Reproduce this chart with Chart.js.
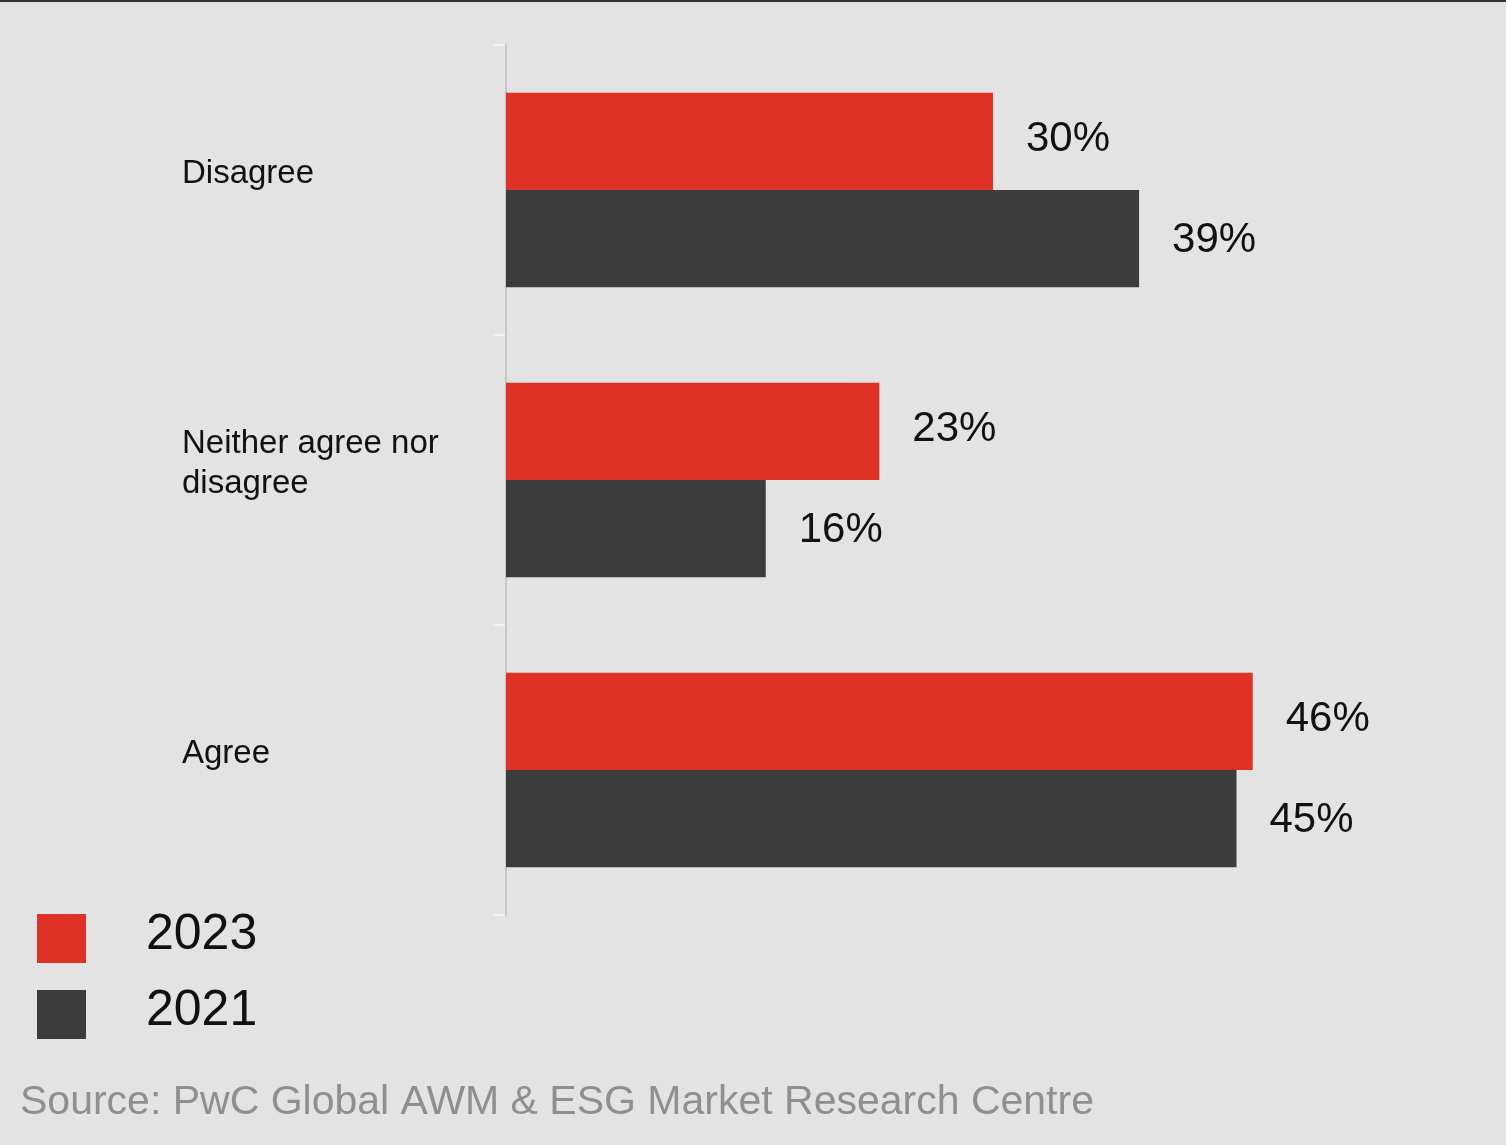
<!DOCTYPE html>
<html>
<head>
<meta charset="utf-8">
<script src="https://cdn.jsdelivr.net/npm/chart.js@4/dist/chart.umd.min.js"></script>
<style>
  html, body { margin: 0; padding: 0; background: #e3e3e3; }
  #wrap { width: 1506px; height: 1145px; }
</style>
</head>
<body>
<div id="wrap"><canvas id="chart" width="1506" height="1145"></canvas></div>
<script>
const categories = ['Disagree', ['Neither agree nor', 'disagree'], 'Agree'];
const seriesNames = ['2023', '2021'];
const values2023 = [30, 23, 46];
const values2021 = [39, 16, 45];
const seriesColors = ['#e03126', '#3c3c3c'];
const sourceNote = 'Source: PwC Global AWM & ESG Market Research Centre';

const FONT = '"Liberation Sans", Arial, sans-serif';

// background + thin dark rule along the top edge
const backdrop = {
    id: 'backdrop',
    beforeDraw(chart) {
        const ctx = chart.ctx;
        ctx.save();
        ctx.fillStyle = '#e3e3e3';
        ctx.fillRect(0, 0, chart.width, chart.height);
        ctx.fillStyle = '#333';
        ctx.fillRect(0, 0, chart.width, 2);
        ctx.restore();
    }
};

// percentage labels to the right of each bar
const valueLabels = {
    id: 'valueLabels',
    afterDatasetsDraw(chart) {
        const ctx = chart.ctx;
        ctx.save();
        ctx.font = '300 42px ' + FONT;
        ctx.fillStyle = '#111';
        ctx.textAlign = 'left';
        ctx.textBaseline = 'middle';
        chart.data.datasets.forEach((ds, di) => {
            chart.getDatasetMeta(di).data.forEach((bar, i) => {
                ctx.fillText(ds.data[i] + '%', bar.x + 33, bar.y + (di === 0 ? -2 : 2));
            });
        });
        ctx.restore();
    }
};

// legend squares and the source line under the plot
const footer = {
    id: 'footer',
    afterDraw(chart) {
        const ctx = chart.ctx;
        ctx.save();
        const rows = [938, 1014];
        chart.data.datasets.forEach((ds, di) => {
            ctx.fillStyle = ds.backgroundColor;
            ctx.fillRect(37, rows[di] - 24, 49, 49);
            ctx.fillStyle = '#111';
            ctx.font = '300 50px ' + FONT;
            ctx.textAlign = 'left';
            ctx.textBaseline = 'middle';
            ctx.fillText(ds.label, 146, rows[di] - 3);
        });
        ctx.fillStyle = '#8f8f8f';
        ctx.font = '300 41px ' + FONT;
        ctx.textBaseline = 'middle';
        ctx.fillText(sourceNote, 20, 1103);
        ctx.restore();
    }
};

new Chart(document.getElementById('chart'), {
    type: 'bar',
    data: {
        labels: categories,
        datasets: [
            { label: seriesNames[0], data: values2023, backgroundColor: seriesColors[0] },
            { label: seriesNames[1], data: values2021, backgroundColor: seriesColors[1] }
        ]
    },
    options: {
        indexAxis: 'y',
        responsive: false,
        animation: false,
        categoryPercentage: 0.67,
        barPercentage: 1.0,
        layout: { padding: { left: 182, top: 45, bottom: 230, right: 26 } },
        plugins: {
            legend: { display: false },
            tooltip: { enabled: false }
        },
        scales: {
            x: { min: 0, max: 60, display: false },
            y: {
                grid: {
                    drawOnChartArea: false,
                    drawTicks: true,
                    tickLength: 13,
                    color: '#f2f2f2',
                    lineWidth: 2
                },
                border: { color: '#c6c6c6', width: 2 },
                ticks: {
                    crossAlign: 'far',
                    padding: 0,
                    labelOffset: -16,
                    color: '#111',
                    font: { family: FONT, size: 33, weight: 300, lineHeight: 1.22 }
                },
                afterFit(scale) { scale.width = 324; }
            }
        }
    },
    plugins: [backdrop, valueLabels, footer]
});
</script>
</body>
</html>
